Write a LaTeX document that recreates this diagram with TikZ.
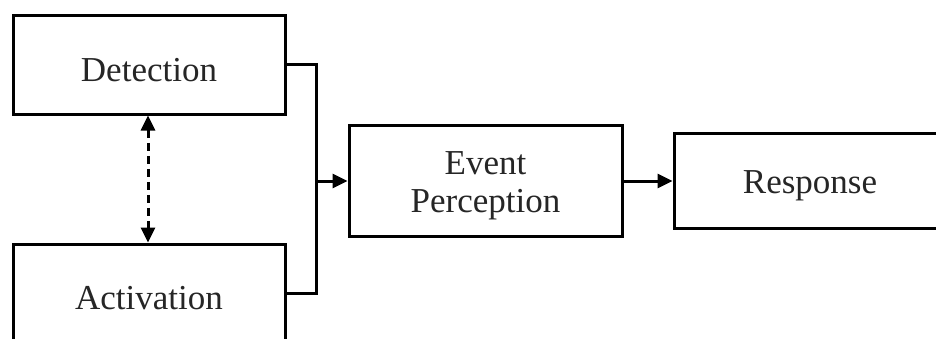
\documentclass[tikz,border=0pt]{standalone}
\usepackage{fontspec}
\setmainfont{Liberation Serif}
\usetikzlibrary{arrows.meta}
\newcommand{\lowered}[1]{\raisebox{-5pt}[\height][\depth]{#1}}
\begin{document}
\begin{tikzpicture}[x=1pt,y=1pt,
  box/.style={draw, line width=3pt, inner sep=0pt, align=center,
    font=\fontsize{35}{38}\selectfont, text=black!85},
  conn/.style={line width=3pt},
  tipped/.style={-{Triangle[length=15pt,width=14pt]}}]
\useasboundingbox (0,0) rectangle (936,338);
\clip (0,0) rectangle (936,338);
\fill[white] (0,0) rectangle (936,338);
\node[box, minimum width=272pt, minimum height=98pt] (det) at (149,273) {\lowered{Detection}};
\node[box, minimum width=272pt, minimum height=98pt] (act) at (149,45) {\lowered{Activation}};
\node[box, minimum width=273pt, minimum height=111pt] (evt) at (485.5,157)
  {\lowered{\begin{tabular}{@{}c@{}}Event\\Perception\end{tabular}}};
\node[box, minimum width=272pt, minimum height=95pt] (rsp) at (810,157) {\lowered{Response}};
\coordinate (j1) at (316,273);
\coordinate (j2) at (316,45);
\coordinate (jm) at (316,157);
\draw[conn, line join=miter] (det.east) -- (j1) -- (j2) -- (act.east);
\draw[conn, tipped] (jm) -- (evt.west);
\draw[conn, tipped] (evt.east) -- (rsp.west);
\draw[conn, dashed, dash pattern=on 8pt off 5pt, {Triangle[length=15pt,width=14pt]}-{Triangle[length=15pt,width=14pt]}]
  ([xshift=-1pt]det.south) -- ([xshift=-1pt]act.north);
\end{tikzpicture}
\end{document}
